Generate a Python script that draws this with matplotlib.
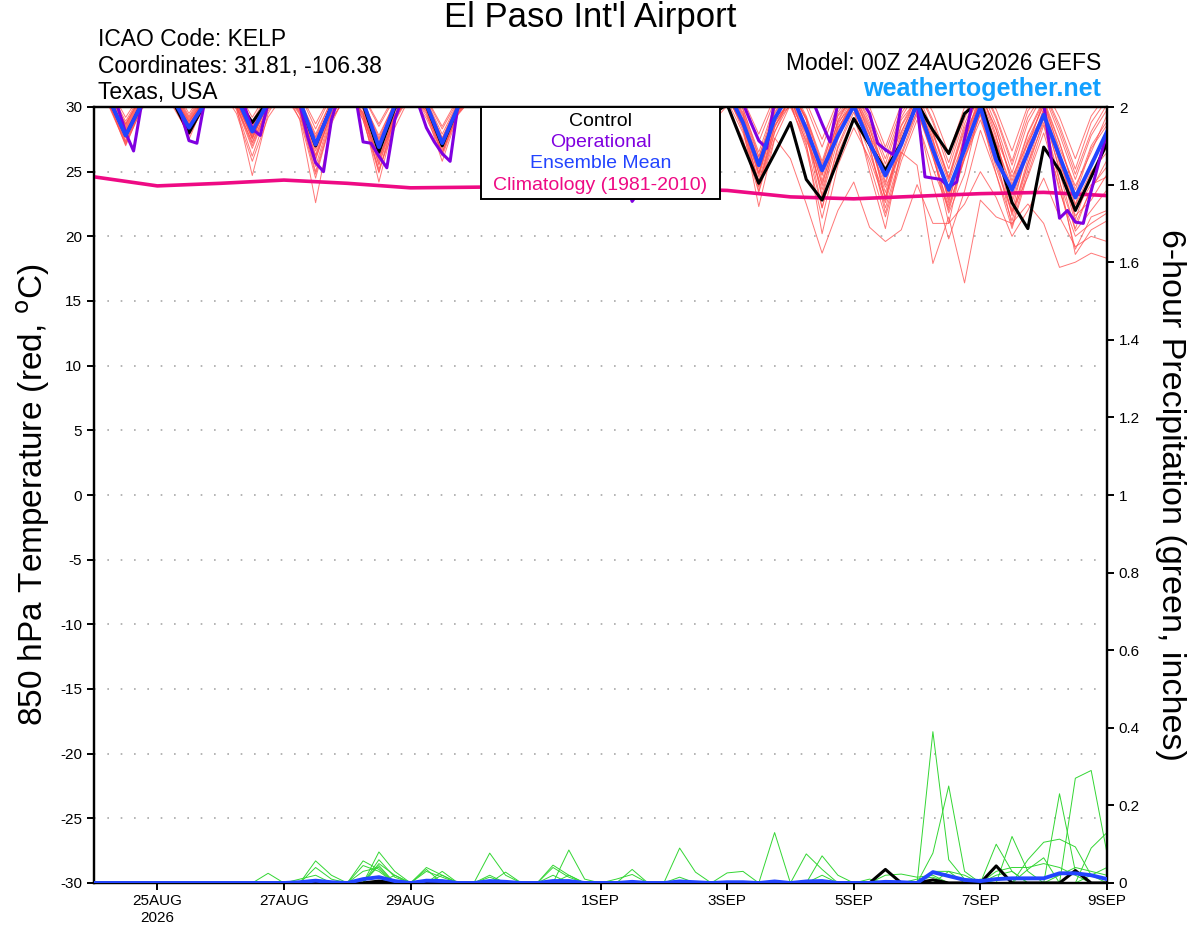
import matplotlib
matplotlib.use("Agg")
import matplotlib.pyplot as plt
import numpy as np
from matplotlib.patches import Rectangle

plt.rcParams['font.family'] = ['Liberation Sans', 'DejaVu Sans']
plt.rcParams['axes.unicode_minus'] = False

# ---------------- axis / labels ----------------
tick_days = [1, 3, 5, 8, 10, 12, 14, 16]
tick_labels = ['25AUG\n2026', '27AUG', '29AUG', '1SEP', '3SEP', '5SEP', '7SEP', '9SEP']
temp_ticks = [-30, -25, -20, -15, -10, -5, 0, 5, 10, 15, 20, 25, 30]
precip_ticks = [0, 0.2, 0.4, 0.6, 0.8, 1.0, 1.2, 1.4, 1.6, 1.8, 2.0]
precip_tick_labels = ['0', '0.2', '0.4', '0.6', '0.8', '1', '1.2', '1.4', '1.6', '1.8', '2']

# ---------------- 850 hPa temperature (6-hourly, 00Z 24AUG .. 00Z 9SEP) ----------------
control = [31.2, 30.5, 27.8, 30.2, 31.5, 30.4, 28.0, 30.3, 31.8, 30.6, 28.8, 30.5,
           31.7, 30.4, 27.0, 30.1, 31.4, 30.2, 26.5, 29.9, 31.3, 30.1, 27.0, 30.0,
           31.1, 29.8, 26.2, 29.6, 30.9, 29.5, 25.8, 29.3, 30.6, 29.1, 25.0, 29.0,
           30.7, 29.3, 25.3, 29.4, 30.2, 27.1, 24.1, 26.4, 28.8, 24.4, 22.8, 25.9,
           29.1, 27.1, 25.1, 27.2, 30.3, 28.2, 26.4, 29.5, 30.5, 26.7, 22.6, 20.6,
           26.9, 25.1, 22.0, 24.6, 27.2]

ens_mean = [31.0, 30.5, 27.8, 30.2, 31.5, 30.6, 28.4, 30.3, 31.5, 30.8, 28.1, 30.4,
            31.6, 30.5, 27.1, 30.0, 31.5, 30.4, 26.9, 30.1, 31.4, 30.2, 27.2, 30.0,
            31.2, 30.0, 26.5, 29.6, 31.0, 29.8, 26.0, 29.5, 30.8, 29.3, 25.2, 29.0,
            30.6, 29.4, 25.5, 29.5, 31.3, 28.8, 25.5, 29.1, 31.2, 28.3, 25.1, 27.8,
            30.1, 27.2, 24.7, 27.1, 30.3, 26.7, 23.6, 26.7, 30.0, 25.9, 23.6, 26.5,
            29.4, 26.2, 23.0, 25.5, 28.1]

# operational run, 3-hourly
operational = [32.0, 31.6, 31.0, 30.0, 28.0, 26.6, 30.2, 31.5,
               32.2, 31.8, 31.0, 29.5, 27.4, 27.2, 30.5, 31.6,
               32.4, 31.9, 31.2, 30.1, 28.3, 27.8, 30.3, 31.5,
               32.3, 31.6, 30.2, 27.7, 25.7, 25.0, 29.0, 31.0,
               32.0, 31.0, 27.3, 27.2, 26.2, 25.3, 29.0, 30.8,
               31.8, 30.2, 28.4, 27.3, 26.4, 25.8, 30.2, 31.2,
               31.6, 30.5, 28.5, 27.0, 26.0, 25.6, 29.0, 30.8,
               31.3, 30.0, 28.0, 26.5, 25.5, 25.2, 28.6, 30.5,
               30.8, 29.2, 26.8, 24.5, 22.7, 23.6, 27.8, 30.0,
               31.0, 29.8, 27.6, 26.0, 25.2, 25.5, 28.4, 30.6,
               31.6, 31.2, 30.3, 28.8, 27.4, 26.8, 30.5, 31.5,
               32.0, 31.6, 31.0, 30.2, 28.7, 27.3, 30.3, 31.4,
               31.5, 30.5, 29.5, 27.2, 26.7, 26.3, 30.2, 31.2,
               30.2, 24.6, 24.5, 24.4, 23.8, 24.2, 27.5, 30.3,
               31.2, 31.4, 31.0, 30.8, 30.6, 30.9, 31.3, 31.5,
               30.3, 25.8, 21.4, 22.0, 21.1, 21.0, 23.5, 25.8,
               28.0]

# climatology, daily at 00Z
climatology = [24.6, 23.9, 24.1, 24.35, 24.1, 23.75, 23.8, 23.85, 23.8, 23.7,
               23.55, 23.05, 22.9, 23.1, 23.3, 23.4, 23.15]

# ensemble members
m01 = [31.5, 30.6, 28.0, 30.4, 31.8, 30.8, 28.9, 30.6, 32.0, 31.0, 28.5, 30.8,
       31.9, 30.5, 27.4, 30.2, 31.6, 30.5, 27.3, 30.3, 31.5, 30.4, 27.6, 30.2,
       31.2, 29.8, 26.8, 29.9, 31.0, 29.6, 26.2, 29.5, 30.8, 29.0, 25.4, 29.1,
       30.6, 29.2, 25.8, 29.4, 31.2, 28.9, 25.9, 29.2, 31.0, 28.5, 25.0, 28.4,
       30.4, 27.8, 25.3, 28.1, 30.5, 27.4, 24.2, 27.5, 30.8, 27.6, 24.6, 27.2,
       30.2, 26.8, 23.9, 26.5, 29.4]
m02 = [32.0, 30.9, 28.6, 30.8, 32.2, 31.1, 29.1, 30.9, 32.3, 30.7, 27.6, 30.5,
       31.8, 30.0, 26.3, 29.9, 31.5, 29.8, 25.8, 29.6, 31.3, 30.1, 27.0, 30.0,
       31.0, 29.5, 26.0, 29.6, 30.9, 29.3, 25.3, 29.2, 30.5, 28.6, 24.6, 28.8,
       30.7, 28.9, 25.1, 29.0, 31.0, 28.2, 24.3, 28.6, 30.2, 27.0, 22.2, 26.8,
       29.6, 26.4, 23.0, 27.2, 30.0, 26.1, 22.4, 26.0, 29.5, 25.3, 21.8, 25.6,
       28.8, 24.2, 20.6, 23.8, 25.4]
m03 = [31.2, 30.2, 27.4, 30.1, 31.5, 30.4, 28.0, 30.3, 31.7, 29.8, 26.2, 29.7,
       31.4, 29.5, 25.4, 29.5, 31.2, 30.2, 26.9, 30.0, 31.6, 30.3, 27.2, 30.1,
       31.4, 30.0, 26.6, 29.8, 30.9, 29.4, 25.9, 29.3, 30.8, 29.3, 25.8, 29.4,
       30.9, 29.5, 25.6, 29.6, 31.3, 29.1, 25.2, 29.8, 31.5, 29.0, 24.8, 28.9,
       31.0, 28.4, 24.2, 28.5, 30.6, 27.3, 22.8, 27.0, 30.2, 26.6, 22.9, 26.8,
       29.6, 25.8, 22.4, 25.0, 26.5]
m04 = [32.2, 31.2, 28.9, 31.0, 32.5, 31.4, 29.3, 31.2, 32.6, 31.2, 28.9, 31.0,
       32.4, 31.0, 28.3, 30.9, 32.2, 30.8, 28.5, 30.7, 32.0, 30.6, 28.3, 30.5,
       31.9, 30.5, 27.8, 30.4, 31.6, 30.2, 27.4, 30.1, 31.5, 30.0, 27.0, 30.0,
       31.4, 29.9, 26.8, 30.0, 31.8, 30.4, 27.3, 30.5, 31.9, 30.0, 26.9, 30.2,
       31.5, 29.4, 26.5, 29.8, 31.6, 29.0, 25.7, 29.4, 31.9, 29.3, 25.8, 29.7,
       31.3, 28.6, 25.2, 28.8, 30.6]
m05 = [31.0, 30.0, 27.2, 30.0, 31.3, 30.2, 27.8, 30.1, 31.5, 30.0, 27.3, 30.0,
       31.2, 29.4, 24.8, 29.0, 31.0, 29.6, 26.0, 29.4, 31.1, 29.9, 26.4, 29.7,
       31.0, 29.6, 26.0, 29.5, 30.6, 29.0, 25.3, 29.0, 30.3, 28.6, 24.8, 28.7,
       30.4, 28.8, 24.9, 28.7, 30.1, 27.5, 23.4, 27.6, 26.0, 22.5, 18.7, 22.0,
       24.2, 20.7, 19.6, 20.5, 24.0, 21.0, 21.0, 22.5, 25.0, 23.0, 20.0, 22.0,
       24.5, 21.5, 19.2, 20.0, 19.6]
m06 = [31.6, 30.5, 27.9, 30.4, 31.9, 30.7, 28.6, 30.6, 32.0, 30.5, 27.7, 30.3,
       31.7, 30.1, 26.8, 30.0, 31.5, 30.0, 26.4, 29.9, 31.4, 30.2, 27.0, 30.0,
       31.2, 29.8, 26.2, 29.6, 30.9, 29.4, 25.6, 29.2, 30.6, 28.9, 24.9, 28.8,
       30.5, 28.9, 25.2, 29.0, 30.8, 28.6, 24.8, 28.8, 30.6, 27.6, 23.6, 27.9,
       30.0, 27.2, 23.8, 26.5, 25.5, 17.9, 21.5, 16.4, 22.8, 21.5, 21.0, 22.5,
       21.0, 17.6, 18.0, 18.7, 18.3]
m07 = [31.4, 30.4, 28.2, 30.3, 31.7, 30.6, 28.7, 30.5, 31.9, 30.0, 24.7, 29.5,
       31.6, 30.2, 27.6, 30.1, 31.4, 30.1, 27.5, 30.0, 31.3, 29.6, 26.5, 29.5,
       31.1, 29.7, 26.7, 29.7, 30.9, 29.5, 26.3, 29.4, 30.6, 29.1, 25.7, 29.1,
       30.8, 29.3, 26.0, 29.4, 31.0, 28.4, 22.3, 27.5, 30.2, 27.9, 24.1, 28.0,
       30.6, 27.5, 23.0, 27.8, 30.4, 26.9, 23.4, 27.0, 30.7, 27.1, 23.8, 27.5,
       30.1, 26.2, 22.5, 25.8, 27.8]
m08 = [31.8, 30.8, 28.4, 30.6, 32.0, 30.9, 28.9, 30.7, 32.1, 30.6, 27.9, 30.4,
       31.5, 29.0, 22.6, 28.7, 31.3, 29.5, 25.0, 29.3, 31.2, 29.8, 26.9, 29.8,
       31.0, 29.4, 25.8, 29.4, 30.8, 29.2, 25.7, 29.2, 30.7, 29.0, 25.3, 29.0,
       30.6, 29.0, 25.4, 29.2, 30.9, 28.8, 24.6, 29.0, 31.1, 28.3, 23.2, 28.2,
       30.8, 27.9, 24.0, 28.0, 30.9, 27.6, 22.6, 27.2, 31.2, 27.8, 22.0, 26.9,
       30.5, 26.5, 21.3, 24.9, 26.9]
m09 = [31.3, 30.3, 27.6, 30.2, 31.6, 30.5, 27.5, 30.4, 31.8, 30.2, 27.2, 30.0,
       31.6, 29.8, 25.9, 29.7, 31.4, 29.3, 24.2, 29.0, 31.3, 30.0, 26.9, 29.9,
       31.1, 29.7, 26.4, 29.7, 30.9, 29.5, 26.1, 29.5, 30.8, 29.3, 25.5, 29.3,
       30.7, 29.2, 25.3, 29.3, 31.0, 29.0, 24.9, 28.8, 30.5, 28.0, 22.2, 27.0,
       29.9, 25.0, 20.6, 26.8, 30.2, 26.5, 21.0, 26.6, 30.6, 26.8, 21.6, 26.0,
       29.8, 25.0, 20.4, 22.0, 23.6]
m10 = [31.9, 30.9, 28.7, 30.8, 32.1, 31.0, 29.0, 30.8, 32.2, 30.9, 28.4, 30.7,
       32.0, 30.6, 27.9, 30.5, 31.8, 30.4, 27.8, 30.3, 31.7, 30.2, 27.3, 30.1,
       31.5, 30.0, 27.0, 30.0, 31.3, 29.8, 26.8, 29.9, 31.1, 29.6, 26.4, 29.7,
       31.0, 29.6, 26.3, 29.8, 31.5, 29.8, 26.5, 30.1, 31.7, 29.3, 25.8, 29.6,
       31.3, 28.8, 25.6, 29.2, 31.2, 28.1, 24.6, 28.7, 31.5, 28.6, 24.9, 28.8,
       31.0, 27.9, 24.4, 27.8, 29.8]
m11 = [31.1, 30.1, 27.0, 29.9, 31.4, 30.3, 28.3, 30.2, 31.6, 30.1, 27.0, 29.9,
       31.3, 29.7, 26.0, 29.6, 31.2, 29.2, 26.1, 28.9, 31.0, 29.5, 25.8, 29.4,
       30.9, 29.5, 26.1, 29.6, 30.7, 29.2, 25.8, 29.1, 30.6, 28.8, 25.0, 28.9,
       30.6, 29.0, 25.5, 29.1, 30.9, 28.7, 24.0, 28.5, 30.8, 27.2, 20.2, 25.5,
       28.4, 26.0, 22.6, 27.0, 29.6, 26.6, 22.0, 26.0, 29.0, 25.6, 21.9, 24.6,
       28.0, 23.8, 19.0, 21.5, 22.0]
m12 = [32.4, 31.4, 29.2, 31.1, 32.6, 31.6, 29.5, 31.3, 32.7, 31.4, 29.2, 31.2,
       32.5, 31.1, 28.7, 31.0, 32.3, 30.9, 28.7, 30.9, 32.1, 30.7, 28.5, 30.7,
       31.9, 30.6, 28.0, 30.5, 31.7, 30.4, 27.7, 30.3, 31.6, 30.2, 27.3, 30.2,
       31.6, 30.1, 27.2, 30.3, 32.0, 30.6, 27.9, 30.8, 32.1, 30.4, 27.5, 30.5,
       31.8, 30.0, 26.9, 30.2, 31.9, 29.6, 26.4, 30.0, 32.0, 29.8, 26.6, 30.1,
       31.6, 29.2, 26.0, 29.3, 31.0]
m13 = [31.5, 30.5, 27.7, 30.3, 31.7, 30.6, 28.0, 30.4, 31.9, 30.3, 27.6, 30.2,
       31.6, 29.9, 26.6, 29.8, 31.4, 29.0, 25.2, 28.4, 30.9, 29.1, 26.5, 29.6,
       31.0, 29.6, 26.3, 29.7, 30.8, 29.3, 25.9, 29.3, 30.7, 29.2, 25.6, 29.2,
       30.7, 29.1, 25.7, 29.3, 31.2, 29.4, 25.5, 29.5, 31.3, 29.0, 24.3, 28.6,
       30.9, 28.0, 22.8, 27.4, 30.0, 27.0, 23.2, 27.5, 30.4, 27.3, 23.3, 27.3,
       29.4, 25.2, 21.6, 22.8, 24.8]
m14 = [31.7, 30.7, 28.3, 30.5, 31.9, 30.8, 28.8, 30.7, 32.0, 30.8, 28.2, 30.6,
       31.8, 30.4, 27.2, 30.3, 31.6, 30.3, 27.0, 30.2, 31.5, 30.5, 27.9, 30.4,
       31.3, 30.1, 27.2, 30.1, 31.1, 29.9, 26.9, 29.8, 31.0, 29.5, 26.2, 29.6,
       30.9, 29.5, 26.1, 29.7, 31.4, 29.6, 26.1, 29.9, 31.3, 29.2, 25.6, 29.3,
       30.7, 28.3, 25.0, 28.6, 30.8, 27.9, 24.4, 28.2, 31.1, 28.2, 24.3, 28.0,
       30.6, 27.3, 23.2, 26.8, 28.6]
m15 = [31.0, 29.9, 27.1, 29.8, 31.2, 30.0, 27.9, 30.0, 31.4, 29.5, 25.8, 29.2,
       31.0, 29.1, 24.5, 29.0, 30.9, 29.4, 25.5, 29.2, 30.8, 29.7, 26.2, 29.5,
       30.8, 29.4, 25.6, 29.3, 30.5, 29.0, 25.1, 28.9, 30.4, 28.7, 24.4, 28.6,
       30.3, 28.6, 24.6, 28.7, 30.5, 28.0, 23.8, 28.1, 30.3, 26.7, 21.4, 26.4,
       29.2, 25.6, 21.5, 25.8, 29.0, 25.2, 22.2, 26.2, 29.4, 24.8, 20.6, 24.8,
       28.6, 23.5, 20.0, 21.0, 21.8]
m16 = [32.1, 31.0, 28.7, 30.9, 32.3, 31.2, 29.2, 31.0, 32.4, 31.0, 28.6, 30.8,
       32.1, 30.6, 27.7, 30.5, 31.9, 30.5, 27.6, 30.4, 31.8, 30.1, 27.0, 30.2,
       31.6, 30.2, 27.3, 30.2, 31.4, 30.0, 27.1, 30.0, 31.2, 29.8, 26.6, 29.8,
       31.2, 29.7, 26.5, 29.9, 31.6, 29.9, 26.2, 29.3, 30.0, 27.4, 24.7, 29.0,
       31.2, 29.1, 26.0, 29.5, 31.4, 28.8, 25.2, 29.1, 31.8, 29.1, 25.5, 29.2,
       31.2, 28.3, 24.8, 28.1, 30.2]
m17 = [31.6, 30.6, 28.1, 30.5, 31.8, 30.8, 28.5, 30.6, 32.0, 30.4, 27.5, 30.3,
       31.7, 30.0, 26.2, 29.6, 31.3, 29.0, 24.9, 29.1, 31.2, 29.9, 27.4, 29.8,
       31.0, 29.5, 25.9, 29.4, 30.8, 29.1, 25.4, 29.0, 30.6, 28.8, 25.1, 28.9,
       30.5, 28.8, 25.0, 29.0, 30.8, 28.5, 23.5, 28.0, 30.9, 28.6, 25.2, 28.8,
       30.3, 27.0, 22.2, 26.4, 29.7, 26.2, 21.8, 24.8, 30.0, 26.2, 20.8, 25.2,
       29.1, 24.4, 18.6, 20.5, 21.2]
m18 = [31.3, 30.3, 27.8, 30.2, 31.5, 30.4, 28.2, 30.3, 31.7, 30.3, 27.8, 30.1,
       31.5, 30.0, 26.9, 29.9, 31.3, 29.9, 26.6, 29.8, 31.2, 29.3, 27.0, 30.0,
       31.1, 29.8, 26.5, 29.8, 30.9, 29.6, 26.4, 29.6, 30.8, 29.4, 25.9, 29.4,
       30.9, 29.4, 25.9, 29.6, 31.1, 29.3, 24.9, 29.2, 31.0, 28.6, 23.9, 28.4,
       30.2, 27.4, 23.4, 27.6, 30.0, 26.8, 23.0, 28.0, 30.4, 27.0, 22.6, 26.4,
       29.9, 25.6, 21.0, 23.6, 25.9]
m19 = [32.0, 31.0, 28.5, 30.7, 32.1, 31.0, 28.6, 30.7, 32.2, 30.8, 28.0, 30.5,
       32.0, 30.3, 27.0, 30.2, 31.7, 30.3, 27.1, 30.1, 31.6, 30.4, 27.6, 30.3,
       31.4, 30.0, 26.9, 30.0, 31.2, 29.8, 26.6, 29.8, 31.0, 29.6, 26.0, 29.6,
       31.0, 29.6, 26.2, 29.7, 31.3, 29.5, 25.8, 29.6, 31.4, 29.1, 25.4, 29.4,
       31.0, 28.6, 24.9, 29.0, 30.6, 28.0, 24.5, 28.4, 31.0, 28.3, 24.0, 27.9,
       30.4, 27.2, 23.6, 27.0, 28.9]
m20 = [31.2, 30.1, 27.3, 30.0, 31.4, 30.3, 27.9, 30.2, 31.6, 30.0, 26.8, 29.9,
       31.3, 29.6, 25.0, 29.3, 31.1, 29.5, 25.6, 29.4, 31.0, 29.8, 26.7, 29.7,
       30.9, 29.5, 25.7, 29.4, 30.6, 29.1, 25.2, 29.0, 30.5, 28.9, 24.8, 28.8,
       30.6, 29.0, 25.2, 29.1, 30.9, 28.9, 23.9, 28.4, 30.7, 28.1, 23.0, 27.5,
       30.1, 26.9, 21.8, 26.2, 29.4, 24.0, 19.8, 23.5, 28.2, 24.8, 21.2, 25.6,
       29.6, 25.8, 22.0, 24.0, 24.6]

# ---------------- 6-hour precipitation (inches) ----------------
precip_control = [0, 0, 0, 0, 0, 0, 0, 0, 0, 0, 0, 0,
                  0, 0, 0, 0, 0, 0, 0.005, 0, 0, 0, 0, 0,
                  0, 0, 0, 0, 0, 0, 0, 0, 0, 0, 0, 0,
                  0, 0, 0, 0, 0, 0, 0, 0, 0, 0, 0, 0,
                  0, 0, 0.035, 0, 0, 0.008, 0, 0, 0, 0.044, 0, 0,
                  0, 0, 0.032, 0, 0]
precip_mean = [0, 0, 0, 0, 0, 0, 0, 0, 0, 0, 0, 0,
               0, 0.002, 0.006, 0.002, 0, 0.01, 0.015, 0.005, 0, 0.006, 0.005, 0,
               0, 0.005, 0.003, 0, 0, 0.005, 0.005, 0, 0, 0, 0.003, 0,
               0, 0.004, 0.002, 0, 0.002, 0.002, 0, 0.004, 0, 0.004, 0.005, 0,
               0, 0, 0.003, 0.002, 0, 0.028, 0.018, 0.008, 0.005, 0.01, 0.012, 0.012,
               0.012, 0.025, 0.025, 0.02, 0.01]
p01 = [0, 0, 0, 0, 0, 0, 0, 0, 0, 0, 0, 0,
       0, 0, 0.057, 0.02, 0, 0, 0.08, 0.03, 0, 0, 0, 0,
       0, 0.077, 0.02, 0, 0, 0, 0.085, 0.01, 0, 0, 0, 0,
       0, 0, 0, 0, 0, 0, 0, 0, 0, 0, 0, 0,
       0, 0, 0, 0, 0, 0.39, 0.06, 0.01, 0, 0, 0, 0,
       0, 0, 0, 0, 0]
p02 = [0, 0, 0, 0, 0, 0, 0, 0, 0, 0, 0, 0.025,
       0, 0, 0, 0, 0, 0.057, 0.035, 0, 0, 0.04, 0.02, 0,
       0, 0, 0, 0, 0, 0.046, 0.02, 0, 0, 0, 0, 0,
       0, 0.09, 0.028, 0, 0, 0, 0, 0, 0, 0, 0, 0,
       0, 0, 0, 0, 0, 0.077, 0.25, 0.03, 0, 0, 0, 0,
       0, 0, 0.27, 0.29, 0.077]
p03 = [0, 0, 0, 0, 0, 0, 0, 0, 0, 0, 0, 0,
       0, 0, 0.04, 0.01, 0, 0, 0.05, 0.02, 0, 0, 0.03, 0,
       0, 0.02, 0, 0, 0, 0, 0, 0, 0, 0, 0.035, 0,
       0, 0, 0, 0, 0, 0, 0, 0.13, 0, 0, 0, 0,
       0, 0, 0, 0, 0, 0, 0, 0, 0, 0.10, 0.03, 0,
       0, 0.23, 0.03, 0, 0]
p04 = [0, 0, 0, 0, 0, 0, 0, 0, 0, 0, 0, 0,
       0, 0.01, 0.02, 0, 0, 0.045, 0.03, 0, 0, 0.035, 0, 0,
       0, 0, 0, 0, 0, 0.04, 0.015, 0, 0, 0.01, 0.022, 0,
       0, 0, 0, 0, 0, 0, 0, 0, 0, 0.075, 0.035, 0,
       0, 0, 0, 0, 0, 0, 0, 0, 0, 0, 0.12, 0.03,
       0, 0, 0, 0.09, 0.13]
p05 = [0, 0, 0, 0, 0, 0, 0, 0, 0, 0, 0, 0,
       0, 0, 0, 0, 0, 0, 0.06, 0.015, 0, 0.03, 0.015, 0,
       0, 0, 0.028, 0, 0, 0, 0, 0, 0, 0, 0, 0,
       0, 0, 0, 0, 0.026, 0.03, 0, 0, 0, 0, 0.07, 0.02,
       0, 0, 0, 0, 0, 0.03, 0.03, 0, 0, 0, 0, 0.06,
       0.105, 0.113, 0.093, 0.02, 0.04]
p06 = [0, 0, 0, 0, 0, 0, 0, 0, 0, 0, 0, 0,
       0, 0, 0, 0, 0, 0.03, 0.04, 0, 0, 0, 0, 0,
       0, 0.015, 0, 0, 0, 0.02, 0, 0, 0, 0, 0, 0,
       0, 0.015, 0, 0, 0, 0, 0, 0, 0, 0, 0, 0,
       0, 0, 0.02, 0.023, 0.015, 0.02, 0, 0, 0, 0.03, 0.04, 0.04,
       0.05, 0.04, 0.02, 0, 0]
p07 = [0, 0, 0, 0, 0, 0, 0, 0, 0, 0, 0, 0,
       0, 0, 0, 0, 0, 0, 0.045, 0, 0, 0, 0.02, 0,
       0, 0, 0, 0, 0, 0, 0.02, 0, 0, 0, 0, 0,
       0, 0, 0, 0, 0, 0, 0, 0, 0, 0, 0.02, 0,
       0, 0, 0, 0, 0, 0, 0.03, 0.02, 0, 0.02, 0.03, 0,
       0, 0.02, 0.04, 0.03, 0.02]
p08 = [0, 0, 0, 0, 0, 0, 0, 0, 0, 0, 0, 0,
       0, 0, 0, 0, 0, 0, 0, 0.02, 0, 0, 0, 0,
       0, 0, 0, 0, 0, 0, 0, 0, 0, 0, 0, 0,
       0, 0, 0, 0, 0, 0, 0, 0, 0, 0, 0, 0,
       0, 0.01, 0, 0, 0.01, 0.015, 0, 0, 0.01, 0, 0, 0.035,
       0.065, 0, 0, 0.02, 0]

temp_members = [m01, m02, m03, m04, m05, m06, m07, m08, m09, m10,
                m11, m12, m13, m14, m15, m16, m17, m18, m19, m20]
precip_members = [p01, p02, p03, p04, p05, p06, p07, p08]

# time coordinates (days since 00Z 24AUG)
t6 = np.arange(len(control)) / 4.0
t3 = np.arange(len(operational)) / 8.0
tclim = np.arange(len(climatology))

# ---------------- colours ----------------
RED = '#ff4a4a'
GREEN = '#33d633'
PURPLE = '#8000e0'
BLUE = '#2244ff'
PINK = '#ee0a84'

W, H = 1200, 927
fig = plt.figure(figsize=(W / 100, H / 100), dpi=100)
L, R, T, B = 94, 1107, 107, 883
ax = fig.add_axes([L / W, 1 - B / H, (R - L) / W, (B - T) / H])
ax2 = ax.twinx()

for m in temp_members:
    ax.plot(t6, m, color=RED, lw=0.7, alpha=0.75, zorder=2)
ax.plot(tclim, climatology, color=PINK, lw=2.6, zorder=3)
ax.plot(t6, control, color='black', lw=2.2, zorder=4)
ax.plot(t3, operational, color=PURPLE, lw=2.2, zorder=5)
ax.plot(t6, ens_mean, color=BLUE, lw=2.8, zorder=6)

for p in precip_members:
    ax2.plot(t6, p, color=GREEN, lw=0.7, zorder=2)
ax2.plot(t6, precip_control, color='black', lw=2.2, zorder=3)
ax2.plot(t6, precip_mean, color=BLUE, lw=2.8, zorder=4)

ax.set_xlim(0, 16)
ax.set_ylim(-30, 30)
ax2.set_ylim(0, 2)
ax.set_yticks(temp_ticks)
ax.set_yticklabels([str(v) for v in temp_ticks], fontsize=11)
ax2.set_yticks(precip_ticks)
ax2.set_yticklabels(precip_tick_labels, fontsize=11)
ax.set_xticks(tick_days)
ax.set_xticklabels(tick_labels, fontsize=11, linespacing=1.25)

for v in temp_ticks[1:-1]:
    ax.axhline(v, color='#a8a8a8', lw=1.2, ls=(0, (1, 7)), zorder=1)

for a in (ax, ax2):
    for s in a.spines.values():
        s.set_linewidth(1.6)
        s.set_color('black')
    a.tick_params(direction='out', length=5, width=1.4, colors='black')
ax.tick_params(axis='x', pad=3)

ax.set_ylabel('850 hPa Temperature (red, $^{\\rm o}$C)', fontsize=24)
ax.yaxis.set_label_coords((33 - L) / (R - L), 0.5)
ax.yaxis.label.set_va('center')
ax2.set_ylabel('6-hour Precipitation (green, inches)', fontsize=24.5, rotation=-90)
ax2.yaxis.set_label_coords((1170 - L) / (R - L), 0.5)
ax2.yaxis.label.set_va('center')

# legend box
x0 = (481 - L) / (R - L)
x1 = (720 - L) / (R - L)
yb = (B - 199) / (B - T)
ax2.add_patch(Rectangle((x0, yb), x1 - x0, 1 - yb, transform=ax2.transAxes,
                        facecolor='white', edgecolor='black', lw=1.4, zorder=20, clip_on=False))
xc = (x0 + x1) / 2
for txt, col, ypx in [('Control', 'black', 121), ('Operational', PURPLE, 142),
                      ('Ensemble Mean', BLUE, 163), ('Climatology (1981-2010)', PINK, 185)]:
    ax2.text(xc, (B - ypx) / (B - T), txt, color=col, fontsize=14, ha='center', va='center',
             transform=ax2.transAxes, zorder=21)

# header texts
fig.text(590 / W, 1 - 18 / H, "El Paso Int'l Airport", fontsize=25, ha='center', va='center')
fig.text(98 / W, 1 - 40 / H, 'ICAO Code: KELP', fontsize=16.5, ha='left', va='center')
fig.text(98 / W, 1 - 66 / H, 'Coordinates: 31.81, -106.38', fontsize=16.5, ha='left', va='center')
fig.text(98 / W, 1 - 92 / H, 'Texas, USA', fontsize=16.5, ha='left', va='center')
fig.text(1101 / W, 1 - 64 / H, 'Model: 00Z 24AUG2026 GEFS', fontsize=16.5, ha='right', va='center')
fig.text(1101 / W, 1 - 89 / H, 'weathertogether.net', fontsize=18, ha='right', va='center',
         color='#12a0ff', fontweight='bold')

fig.savefig('out.png', dpi=100)
